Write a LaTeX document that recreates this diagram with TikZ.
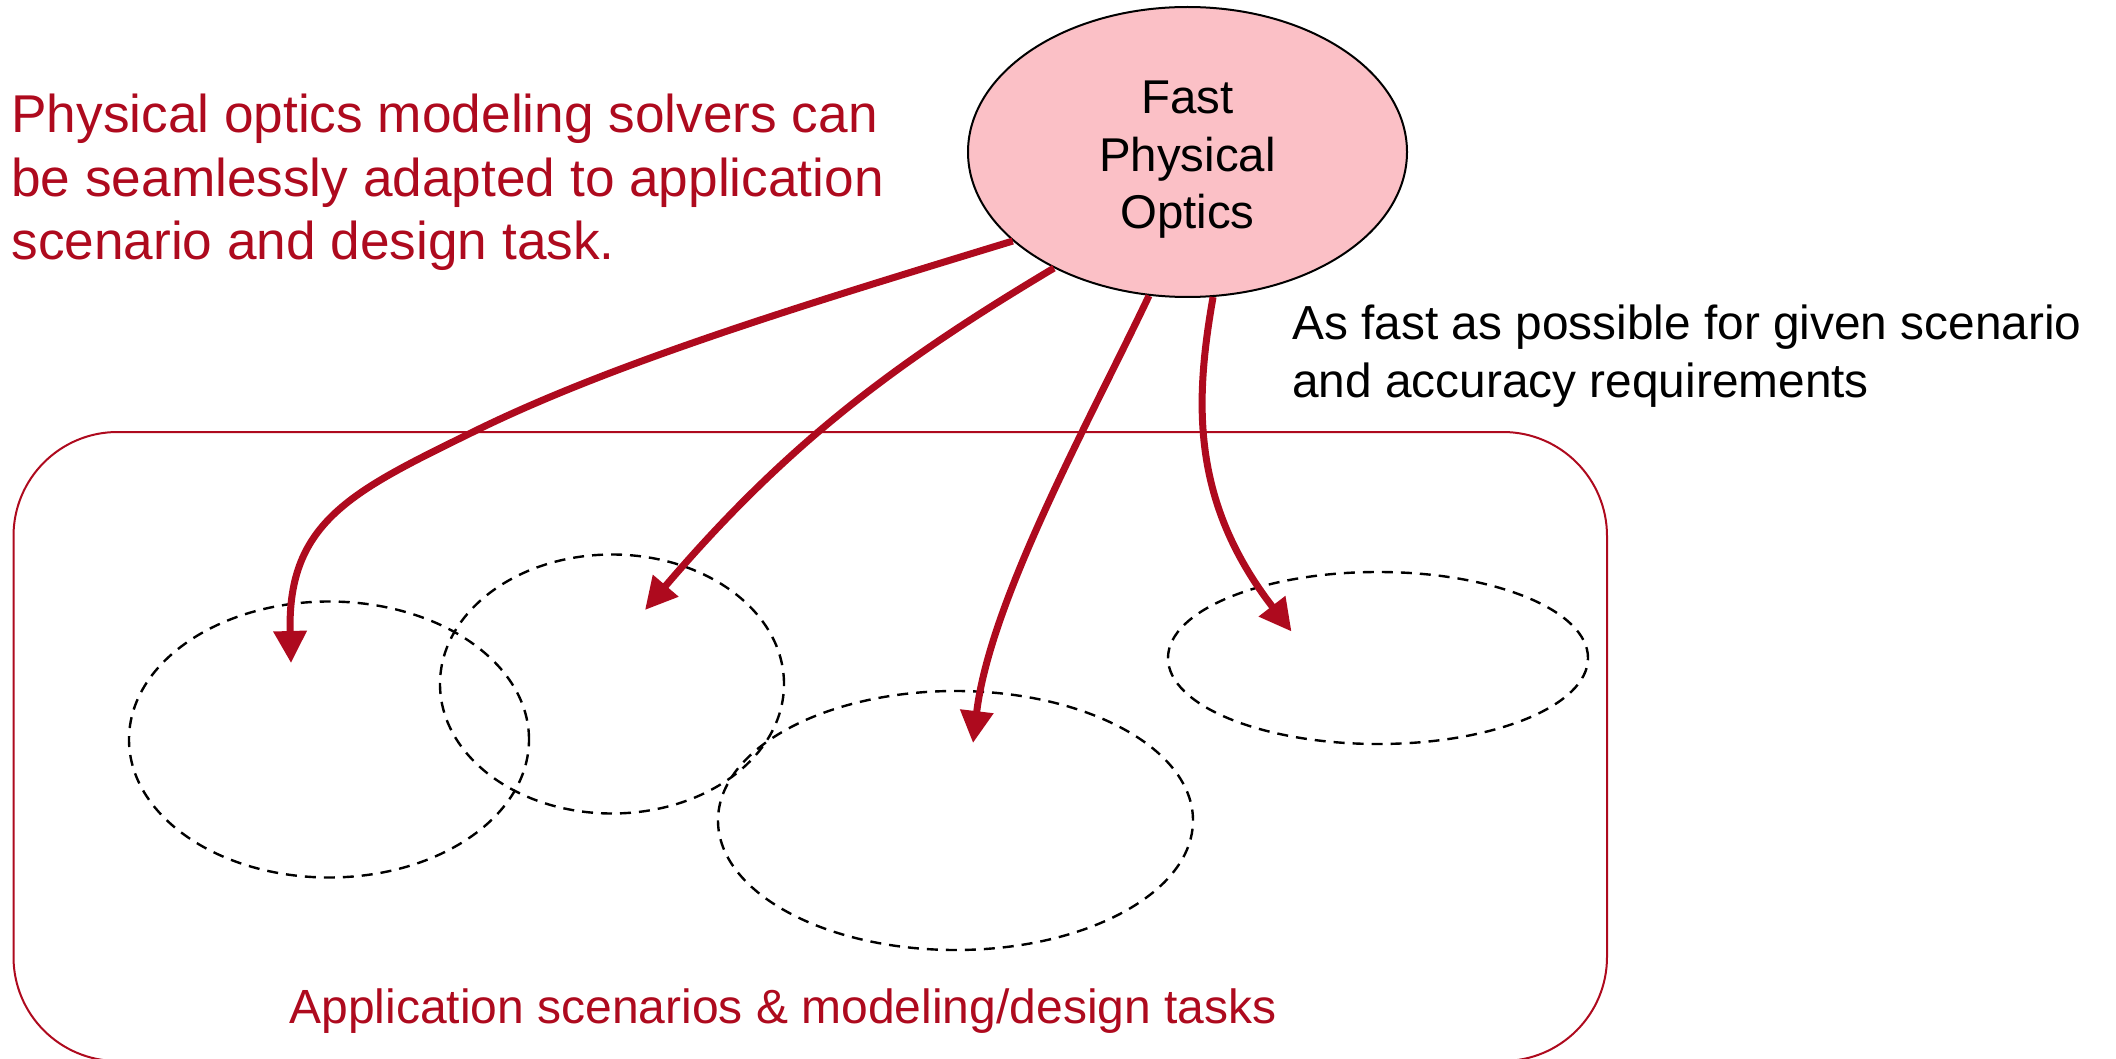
\documentclass[tikz,border=0pt]{standalone}
\usepackage{fontspec}
\setmainfont{Liberation Sans}
\usetikzlibrary{arrows.meta,shapes.geometric}
\definecolor{brickred}{HTML}{AE0A1E}
\definecolor{blush}{HTML}{FBC0C6}
\begin{document}
\begin{tikzpicture}[x=0.5pt,y=-0.5pt,
  flow/.style={draw=brickred, line width=3.5pt, -{Triangle[length=16pt,width=16pt]}},
  task/.style={ellipse, draw=black, line width=1.2pt, dash pattern=on 5.5pt off 4pt, inner sep=0pt},
  core/.style={ellipse, draw=black, line width=1pt, fill=blush, inner sep=0pt},
  note/.style={inner sep=0pt, align=left},
]
\useasboundingbox (0,0) rectangle (2116,1059);

% container of application scenarios
\node[draw=brickred, line width=1pt, rounded corners=52pt,
      minimum width=796.75pt, minimum height=314.5pt, inner sep=0pt] (frame) at (810.25,746.5) {};

% individual scenarios / tasks
\node[task, minimum width=200pt, minimum height=138pt] (s1) at (329,739.5) {};
\node[task, minimum width=172pt, minimum height=129.5pt] (s2) at (612,684) {};
\node[task, minimum width=237.5pt, minimum height=129.5pt] (s3) at (955.5,820.5) {};
\node[task, minimum width=210pt, minimum height=86pt] (s4) at (1378,658) {};

% solver
\node[core, minimum width=219.5pt, minimum height=145pt] (fpo) at (1187.5,152) {};
\node[inner sep=0pt, align=center, font=\fontsize{23.7}{28.75}\selectfont] (fpotext) at (1187.5,160)
  {Fast\\Physical\\Optics};

% arrow targets inside the scenarios
\coordinate (t1) at (291,663);
\coordinate (t2) at (645,610);
\coordinate (t3) at (973,743);
\coordinate (t4) at (1291.5,631.5);

\draw[flow] (fpo.207) .. controls (820,300) and (620,360) .. (477,430)
                      .. controls (355,490) and (287,520) .. (t1);
\draw[flow] (fpo.221) .. controls (900,360) and (790,440) .. (t2);
\draw[flow] (fpo.255.6) .. controls (1090,420) and (990,600) .. (t3);
\draw[flow] (fpo.280) .. controls (1195,400) and (1190,500) .. (t4);

% texts
\node[note, anchor=base west, text=brickred, font=\fontsize{26.6}{31.8}\selectfont] (claim) at (11,260)
  {Physical optics modeling solvers can\\be seamlessly adapted to application\\scenario and design task.};
\node[note, anchor=base west, font=\fontsize{23.9}{29.2}\selectfont] (speed) at (1292,398)
  {As fast as possible for given scenario\\and accuracy requirements};
\node[inner sep=0pt, anchor=base, text=brickred, font=\fontsize{24}{30}\selectfont] (label) at (783,1023)
  {Application scenarios \& modeling/design tasks};
\end{tikzpicture}
\end{document}
